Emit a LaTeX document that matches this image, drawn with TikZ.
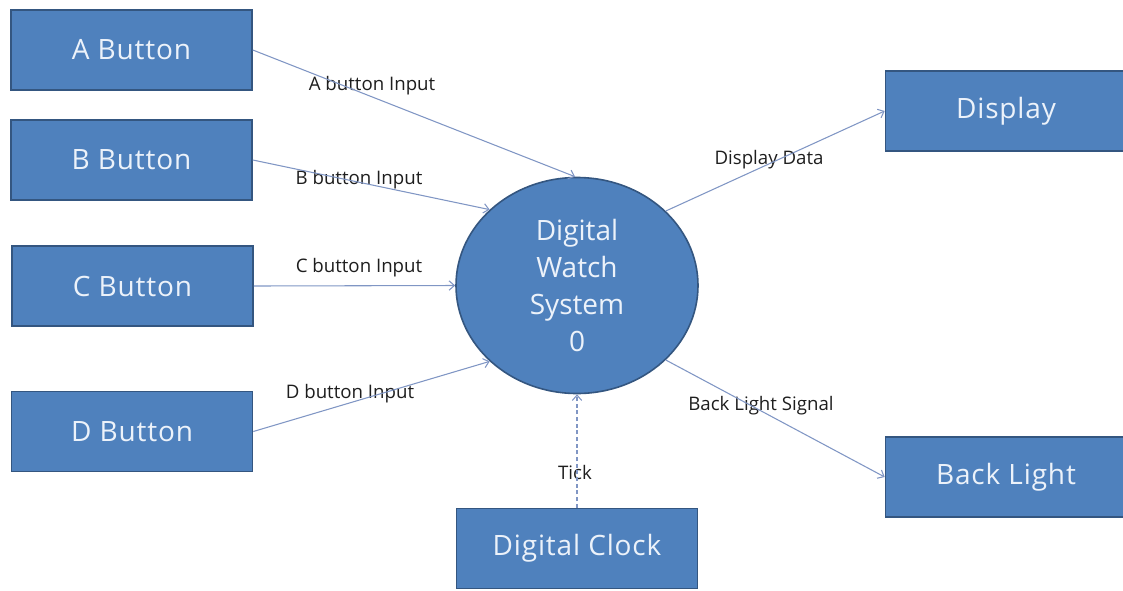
\documentclass[tikz,border=0pt]{standalone}
\usepackage{fontspec}
\setmainfont{Open Sans}
\usetikzlibrary{shapes.geometric,arrows.meta}
\definecolor{boxfill}{RGB}{79,129,189}
\definecolor{boxline}{RGB}{52,86,128}
\definecolor{flowline}{RGB}{128,150,196}
\definecolor{lbltext}{RGB}{30,30,30}
\definecolor{boxtext}{RGB}{236,242,250}
\begin{document}
\begin{tikzpicture}[x=0.75pt,y=-0.75pt,
    entity/.style={draw=boxline,line width=1.2pt,fill=boxfill,text=boxtext,
      minimum width=180.75pt,minimum height=60pt,inner sep=0pt,
      font=\fontsize{21}{24}\selectfont\addfontfeature{LetterSpace=3}},
    process/.style={ellipse,draw=boxline,line width=1.2pt,fill=boxfill,text=boxtext,
      minimum width=181.5pt,minimum height=162pt,inner sep=0pt,align=center,
      font=\fontsize{21}{27.75}\selectfont},
    flowlbl/.style={text=lbltext,inner sep=0pt,font=\fontsize{14}{16}\selectfont},
    flow/.style={draw=flowline,line width=0.8pt,-{Straight Barb[length=4pt,width=7pt]}}]
  \useasboundingbox (0,0) rectangle (1123,590);
  \draw
    (131.5,50) node[entity] (abtn){A Button}
    (131.5,160) node[entity] (bbtn){B Button}
    (132.5,286) node[entity] (cbtn){C Button}
    (132,431.5) node[entity] (dbtn){D Button}
    (1006,111) node[entity] (disp){Display}
    (1006,477) node[entity] (blight){Back Light}
    (577,548.5) node[entity] (clock){Digital Clock}
    (577,285.5) node[process] (sys){Digital\\Watch\\System\\0};
  \draw
    (372,86) node[flowlbl] (albl){A button Input}
    (359,180) node[flowlbl] (blbl){B button Input}
    (359,268) node[flowlbl] (clbl){C button Input}
    (350,394) node[flowlbl] (dlbl){D button Input}
    (769,160) node[flowlbl] (displbl){Display Data}
    (761,406) node[flowlbl] (bllbl){Back Light Signal}
    (575,472) node[flowlbl] (ticklbl){Tick};
  \begin{scope}[flow]
    \draw (abtn.east) to (sys.91);
    \draw (bbtn.east) to (sys.139);
    \draw (cbtn.east) to (sys.180);
    \draw (dbtn.east) to (sys.221);
    \draw (sys.40) to (disp.west);
    \draw (sys.-40) to (blight.west);
    \draw[dash pattern=on 3pt off 2pt] (clock.north) to (sys.south);
  \end{scope}
\end{tikzpicture}
\end{document}
